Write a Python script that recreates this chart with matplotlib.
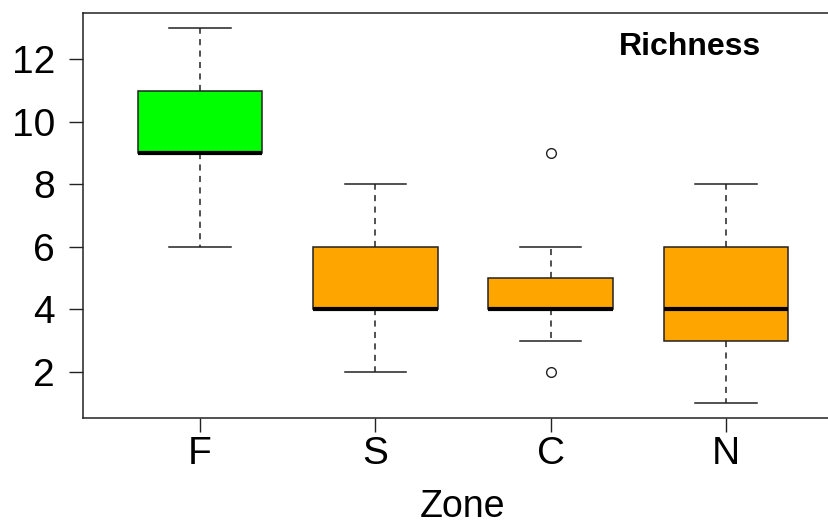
import matplotlib

matplotlib.use("Agg")
import matplotlib.pyplot as plt

zones = ["F", "S", "C", "N"]
whisker_low = [6, 2, 3, 1]
q1 = [9, 4, 4, 3]
medians = [9, 4, 4, 4]
q3 = [11, 6, 5, 6]
whisker_high = [13, 8, 6, 8]
outliers = [[], [], [9, 2], []]
box_colors = ["#00ff00", "#ffa500", "#ffa500", "#ffa500"]

plt.rcParams["font.family"] = ["Liberation Sans", "DejaVu Sans"]

stats = []
for i, z in enumerate(zones):
    stats.append({
        "label": z,
        "whislo": whisker_low[i],
        "q1": q1[i],
        "med": medians[i],
        "q3": q3[i],
        "whishi": whisker_high[i],
        "fliers": outliers[i],
    })

fig = plt.figure(figsize=(8.29, 5.25), dpi=100)
ax = fig.add_axes([83 / 829, 107 / 525, 760 / 829, 405 / 525])

bp = ax.bxp(
    stats,
    positions=range(1, len(zones) + 1),
    widths=0.71,
    patch_artist=True,
    boxprops=dict(edgecolor="#222222", linewidth=1.1),
    medianprops=dict(color="black", linewidth=3.0, solid_capstyle="butt"),
    whiskerprops=dict(color="#222222", linewidth=1.1, linestyle=(0, (4, 3.5))),
    capprops=dict(color="#222222", linewidth=1.1),
    capwidths=0.35,
    flierprops=dict(marker="o", markersize=7, markerfacecolor="white",
                    markeredgecolor="#222222", markeredgewidth=1.0),
)
for patch, c in zip(bp["boxes"], box_colors):
    patch.set_facecolor(c)

ax.set_xlim(0.333, 4.667)
ax.set_ylim(0.52, 13.48)
ax.set_yticks([2, 4, 6, 8, 10, 12])
ax.tick_params(axis="both", labelsize=28, length=10, width=1.0, color="#222222")
ax.tick_params(axis="x", pad=3)
ax.tick_params(axis="y", pad=10)
for s in ax.spines.values():
    s.set_linewidth(1.1)
    s.set_color("#222222")

fig.text(463 / 829, 1 - 517 / 525, "Zone", ha="center", va="baseline", fontsize=27)
fig.text(690 / 829, 1 - 55 / 525, "Richness", ha="center", va="baseline",
         fontsize=23, fontweight="bold")

fig.savefig("out.png", dpi=100)
